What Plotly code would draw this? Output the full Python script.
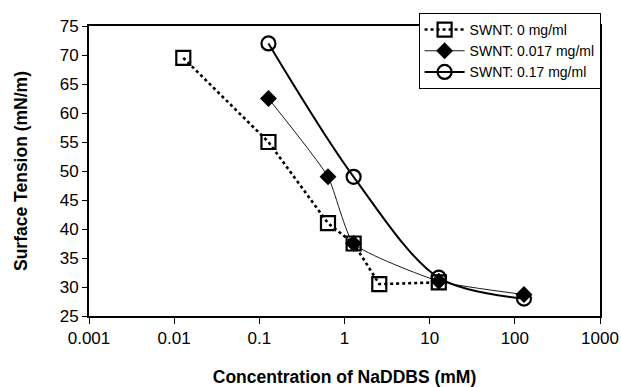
import plotly.graph_objects as go

# NaDDBS concentration (mM) and surface tension (mN/m) for each SWNT loading
conc_0 = [0.0128, 0.128, 0.64, 1.28, 2.56, 12.8]
st_0 = [69.5, 55.0, 41.0, 37.5, 30.5, 30.8]

conc_017 = [0.128, 0.64, 1.28, 12.8, 128]
st_017 = [62.5, 49.0, 37.5, 31.0, 28.7]

conc_17 = [0.128, 1.28, 12.8, 128]
st_17 = [72.0, 49.0, 31.6, 28.0]

names = ["SWNT: 0 mg/ml", "SWNT: 0.017 mg/ml", "SWNT: 0.17 mg/ml"]

x_tickvals = [0.001, 0.01, 0.1, 1, 10, 100, 1000]
x_ticktext = ["0.001", "0.01", "0.1", "1", "10", "100", "1000"]

FONT = "Liberation Sans, Arial, sans-serif"

fig = go.Figure()

fig.add_trace(go.Scatter(
    x=conc_0, y=st_0, name=names[0], mode="lines+markers",
    line=dict(color="black", width=2.6, dash="dot"),
    marker=dict(symbol="square-open", size=14, color="black",
                line=dict(width=2.2, color="black")),
))
fig.add_trace(go.Scatter(
    x=conc_017, y=st_017, name=names[1], mode="lines+markers",
    line=dict(color="black", width=0.9, shape="spline", smoothing=0.5),
    marker=dict(symbol="diamond", size=13, color="black"),
))
fig.add_trace(go.Scatter(
    x=conc_17, y=st_17, name=names[2], mode="lines+markers",
    line=dict(color="black", width=2, shape="spline", smoothing=0.9),
    marker=dict(symbol="circle-open", size=14, color="black",
                line=dict(width=2.2, color="black")),
))

fig.update_layout(
    width=621, height=387,
    margin=dict(l=89, r=21, t=26, b=71),
    paper_bgcolor="white", plot_bgcolor="white",
    font=dict(family=FONT, color="black"),
    showlegend=True,
    legend=dict(
        x=0.645, y=1.045, xanchor="left", yanchor="top",
        bgcolor="white", bordercolor="black", borderwidth=1,
        font=dict(size=14, family=FONT, color="black"),
        itemwidth=40, tracegroupgap=0,
    ),
    xaxis=dict(
        type="log", range=[-3, 3], automargin=False,
        tickvals=x_tickvals, ticktext=x_ticktext,
        showgrid=False, zeroline=False,
        showline=True, linecolor="black", linewidth=2, mirror=True,
        ticks="outside", ticklen=6, tickwidth=1, tickcolor="black",
        tickfont=dict(size=17, family=FONT),
        title=dict(text="<b>Concentration of NaDDBS (mM)</b>",
                   font=dict(size=17.5, family=FONT), standoff=28),
    ),
    yaxis=dict(
        range=[25, 75], dtick=5, tick0=25, automargin=False,
        showgrid=False, zeroline=False,
        showline=True, linecolor="black", linewidth=2, mirror=True,
        ticks="outside", ticklen=5, tickwidth=1, tickcolor="black",
        tickfont=dict(size=17, family=FONT),
        title=dict(text="<b>Surface Tension (mN/m)</b>",
                   font=dict(size=17.5, family=FONT), standoff=28),
    ),
)

fig.write_html("out.html")
